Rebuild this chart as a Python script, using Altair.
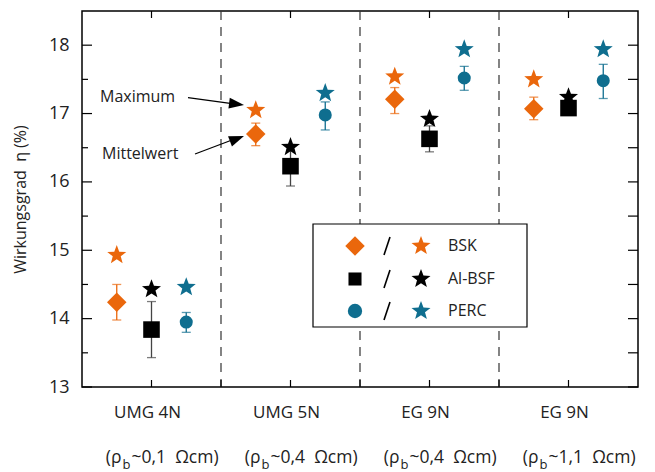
import math
import altair as alt
import pandas as pd

# Material groups along the x axis and their base resistivity
groups = ["UMG 4N", "UMG 5N", "EG 9N", "EG 9N"]
resistivity = ["~0,1\u00a0\u00a0Ωcm)", "~0,4\u00a0\u00a0Ωcm)", "~0,4\u00a0\u00a0Ωcm)", "~1,1\u00a0\u00a0Ωcm)"]
series = ["BSK", "Al-BSF", "PERC"]

# Efficiency (%) per group: mean, maximum and spread (lower / upper whisker)
bsk_mean = [14.24, 16.70, 17.21, 17.07]
bsk_max = [14.93, 17.05, 17.54, 17.50]
bsk_lo = [13.98, 16.53, 17.00, 16.91]
bsk_hi = [14.50, 16.86, 17.38, 17.24]

al_mean = [13.84, 16.23, 16.63, 17.08]
al_max = [14.43, 16.51, 16.92, 17.24]
al_lo = [13.43, 15.94, 16.44, 17.00]
al_hi = [14.25, 16.52, 16.82, 17.16]

perc_mean = [13.95, 16.98, 17.52, 17.48]
perc_max = [14.46, 17.30, 17.94, 17.94]
perc_lo = [13.80, 16.76, 17.34, 17.22]
perc_hi = [14.09, 17.17, 17.69, 17.72]

y_major = [13, 14, 15, 16, 17, 18]
y_minor = [13.5, 14.5, 15.5, 16.5, 17.5]

ORANGE = "#EA670C"
BLUE = "#0F6E8F"
colors = [ORANGE, "#000000", BLUE]
bar_colors = [ORANGE, "#444444", BLUE]
mean_shapes = ["diamond", "square", "circle"]
mean_sizes = [380, 170, 205]
offsets = [-0.25, 0.0, 0.25]
STAR_SIZE = 400

W, H = 556, 376
FONT = "Open Sans"
INK = "#222222"


def star_path(inner=0.42):
    pts = []
    for k in range(10):
        r = 1.0 if k % 2 == 0 else inner
        a = math.radians(-90 + 36 * k)
        pts.append(f"{r * math.cos(a):.3f},{r * math.sin(a):.3f}")
    return "M" + "L".join(pts) + "Z"


STAR = star_path()
ARROW_HEAD = "M0,0L-1,-0.36L-1,0.36Z"

rows = []
values = {
    "BSK": (bsk_mean, bsk_max, bsk_lo, bsk_hi),
    "Al-BSF": (al_mean, al_max, al_lo, al_hi),
    "PERC": (perc_mean, perc_max, perc_lo, perc_hi),
}
for si, s in enumerate(series):
    mean, mx, lo, hi = values[s]
    for gi in range(len(groups)):
        rows.append({
            "series": s,
            "x": gi + 0.5 + offsets[si],
            "mean": mean[gi],
            "max": mx[gi],
            "lo": lo[gi],
            "hi": hi[gi],
        })
df = pd.DataFrame(rows)

xs = alt.Scale(domain=[0, 4], nice=False, zero=False)
ys = alt.Scale(domain=[13, 18.5], nice=False, zero=False)

# one shared y axis: labels and title only, ticks are drawn inward below
y_axis = alt.Axis(
    values=y_major,
    ticks=False,
    domain=False,
    grid=False,
    labelFont=FONT,
    labelFontSize=18,
    labelColor=INK,
    labelPadding=13,
    title="Wirkungsgrad\u00a0\u00a0η (%)",
    titleFont=FONT,
    titleFontSize=16,
    titleFontWeight="normal",
    titleColor=INK,
    titlePadding=20,
)


def Y(field):
    return alt.Y(field, scale=ys, axis=y_axis)


X = alt.X("x:Q", scale=xs, axis=None)
color = alt.Color("series:N", scale=alt.Scale(domain=series, range=colors), legend=None)
bar_color = alt.Color("series:N", scale=alt.Scale(domain=series, range=bar_colors), legend=None)

base = alt.Chart(df)

# group separators
sep = alt.Chart(pd.DataFrame({"x": [1, 2, 3]})).mark_rule(
    color="#333333", strokeWidth=1.2, strokeDash=[9, 7]
).encode(x=X)

# whiskers with caps
whisker = base.mark_rule(strokeWidth=1.3).encode(x=X, y=Y("lo:Q"), y2="hi:Q", color=bar_color)
cap_lo = base.mark_tick(orient="horizontal", size=9, thickness=1.3).encode(x=X, y=Y("lo:Q"), color=bar_color)
cap_hi = base.mark_tick(orient="horizontal", size=9, thickness=1.3).encode(x=X, y=Y("hi:Q"), color=bar_color)
bars = alt.layer(whisker, cap_lo, cap_hi)

# mean values
means = base.mark_point(filled=True, opacity=1, strokeWidth=0).encode(
    x=X,
    y=Y("mean:Q"),
    color=color,
    shape=alt.Shape("series:N", scale=alt.Scale(domain=series, range=mean_shapes), legend=None),
    size=alt.Size("series:N", scale=alt.Scale(domain=series, range=mean_sizes), legend=None),
)

# maximum values
stars = base.mark_point(shape=STAR, filled=True, opacity=1, size=STAR_SIZE, strokeWidth=0).encode(
    x=X, y=Y("max:Q"), color=color
)

# inward ticks on all four sides
maj_df = pd.DataFrame({"v": y_major})
min_df = pd.DataFrame({"v": y_minor})
tick_style = dict(color="black", strokeWidth=1.2)
ticks = [
    alt.Chart(maj_df).mark_rule(**tick_style).encode(y=Y("v:Q"), x=alt.value(0), x2=alt.value(10)),
    alt.Chart(min_df).mark_rule(**tick_style).encode(y=Y("v:Q"), x=alt.value(0), x2=alt.value(6)),
    alt.Chart(maj_df).mark_rule(**tick_style).encode(y=Y("v:Q"), x=alt.value(W - 10), x2=alt.value(W)),
    alt.Chart(min_df).mark_rule(**tick_style).encode(y=Y("v:Q"), x=alt.value(W - 10), x2=alt.value(W)),
]
bottom_ticks = alt.Chart(pd.DataFrame({"x": [0.5, 1, 1.5, 2, 2.5, 3, 3.5]})).mark_rule(
    **tick_style
).encode(x=X, y=alt.value(H), y2=alt.value(H - 7))
top_ticks = alt.Chart(pd.DataFrame({"x": [0.5, 1.5, 2.5, 3.5]})).mark_rule(
    **tick_style
).encode(x=X, y=alt.value(0), y2=alt.value(7))

# category labels below the plot
lab_df = pd.DataFrame({"x": [i + 0.5 for i in range(len(groups))], "g": groups, "r": resistivity})
lab_base = alt.Chart(lab_df)
txt = dict(font=FONT, color=INK)
line1 = lab_base.mark_text(fontSize=17, align="center", baseline="middle", dx=-4, **txt).encode(
    x=X, y=alt.value(402), text="g:N"
)
line2a = lab_base.mark_text(fontSize=17.5, align="right", baseline="middle", dx=-30, **txt).encode(
    x=X, y=alt.value(447), text=alt.value("(ρ")
)
line2b = lab_base.mark_text(fontSize=13, align="left", baseline="middle", dx=-29, **txt).encode(
    x=X, y=alt.value(454), text=alt.value("b")
)
line2c = lab_base.mark_text(fontSize=17.5, align="left", baseline="middle", dx=-20, **txt).encode(
    x=X, y=alt.value(447), text="r:N"
)

# annotation arrows
one = pd.DataFrame({"k": [0]})
head = dict(shape=ARROW_HEAD, filled=True, opacity=1, size=900, color="black", strokeWidth=0)
annot = [
    alt.Chart(one).mark_text(fontSize=16, align="left", baseline="middle", **txt).encode(
        x=alt.value(18), y=alt.value(86), text=alt.value("Maximum")
    ),
    alt.Chart(one).mark_text(fontSize=16, align="left", baseline="middle", **txt).encode(
        x=alt.value(20), y=alt.value(143), text=alt.value("Mittelwert")
    ),
    alt.Chart(one).mark_rule(color="black", strokeWidth=1.2).encode(
        x=alt.value(106), y=alt.value(86.7), x2=alt.value(150), y2=alt.value(92.6)
    ),
    alt.Chart(one).mark_point(angle=7, **head).encode(x=alt.value(162), y=alt.value(94)),
    alt.Chart(one).mark_rule(color="black", strokeWidth=1.2).encode(
        x=alt.value(113), y=alt.value(143), x2=alt.value(150), y2=alt.value(129)
    ),
    alt.Chart(one).mark_point(angle=339, **head).encode(x=alt.value(162), y=alt.value(125)),
]

# legend box: mean symbol / maximum star, series name
leg = [
    alt.Chart(one).mark_rect(fill="white", stroke="black", strokeWidth=1.2).encode(
        x=alt.value(231), x2=alt.value(445), y=alt.value(213), y2=alt.value(316)
    )
]
leg_y = [235, 268, 300]
for i, s in enumerate(series):
    leg += [
        alt.Chart(one).mark_point(
            shape=mean_shapes[i], filled=True, opacity=1, size=mean_sizes[i], color=colors[i], strokeWidth=0
        ).encode(x=alt.value(273), y=alt.value(leg_y[i])),
        alt.Chart(one).mark_rule(color="black", strokeWidth=1.6).encode(
            x=alt.value(302), x2=alt.value(308), y=alt.value(leg_y[i] + 9), y2=alt.value(leg_y[i] - 9)
        ),
        alt.Chart(one).mark_point(
            shape=STAR, filled=True, opacity=1, size=STAR_SIZE, color=colors[i], strokeWidth=0
        ).encode(x=alt.value(339), y=alt.value(leg_y[i])),
        alt.Chart(one).mark_text(fontSize=16, align="left", baseline="middle", **txt).encode(
            x=alt.value(366), y=alt.value(leg_y[i]), text=alt.value(s)
        ),
    ]

chart = alt.layer(
    sep, *ticks, bottom_ticks, top_ticks, bars, means, stars,
    line1, line2a, line2b, line2c, *annot, *leg
).resolve_scale(color="independent").properties(
    width=W, height=H,
    autosize=alt.AutoSizeParams(type="none"),
    padding={"left": 82, "top": 11, "right": 17, "bottom": 85},
).configure_view(stroke="black", strokeWidth=1.5)

chart.save("out.html", embed_options={"renderer": "svg", "actions": False})
